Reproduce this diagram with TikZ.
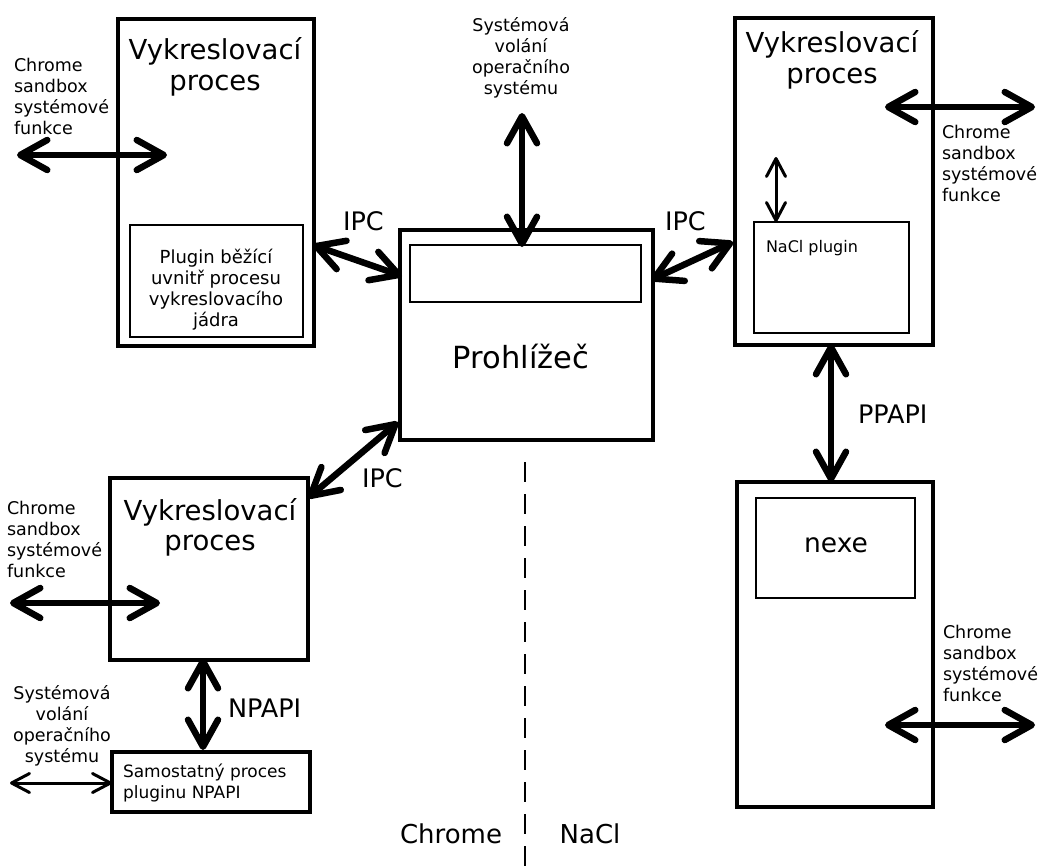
\documentclass[tikz,border=0pt]{standalone}
\usepackage{fontspec}
\setmainfont{DejaVu Sans}
\usetikzlibrary{arrows.meta}
\newcommand\BigTxt{\fontsize{27.5}{30.5}\selectfont}
\newcommand\LblTxt{\fontsize{25.5}{30}\selectfont}
\newcommand\SmTxt{\fontsize{17.5}{21}\selectfont}
\tikzset{
  outerbox/.style={draw, line width=4.5pt, inner sep=0pt, outer sep=0pt},
  innerbox/.style={draw, line width=2pt, inner sep=0pt, outer sep=0pt},
  bigtip/.tip={Straight Barb[length=27pt,width=30pt,round]},
  smalltip/.tip={Straight Barb[length=18pt,width=19pt,round]},
  bigarrow/.style={line width=6.5pt, line cap=round, bigtip-bigtip},
  smallarrow/.style={line width=3pt, line cap=round, smalltip-smalltip},
  txt/.style={inner sep=0pt, outer sep=0pt},
}
\begin{document}
\begin{tikzpicture}[x=1pt,y=-1pt]
\fill[white] (0,0) rectangle (1039,865);
\useasboundingbox (0,0) rectangle (1039,865);

% boxes
\node[outerbox, minimum width=196pt, minimum height=327pt] (rA) at (216,182.5) {};
\node[innerbox, minimum width=173pt, minimum height=112pt] (pA) at (216.5,281) {};
\node[outerbox, minimum width=253pt, minimum height=210pt] (br) at (526.5,335) {};
\node[innerbox, minimum width=231pt, minimum height=57pt] (bi) at (525.5,273.5) {};
\node[outerbox, minimum width=198pt, minimum height=327pt] (rC) at (834,181.5) {};
\node[innerbox, minimum width=155pt, minimum height=111pt] (nC) at (831.5,277.5) {};
\node[outerbox, minimum width=196pt, minimum height=325pt] (rD) at (835,644.5) {};
\node[innerbox, minimum width=159pt, minimum height=100pt] (nx) at (835.5,548) {};
\node[outerbox, minimum width=198pt, minimum height=182pt] (rE) at (209,569) {};
\node[outerbox, minimum width=198pt, minimum height=60pt] (rF) at (211,782) {};

% big texts
\node[txt, anchor=north, align=center, font=\BigTxt] (tA) at (215,38) {Vykreslovací\\proces};
\node[txt, anchor=north, align=center, font=\BigTxt] (tC) at (832,31) {Vykreslovací\\proces};
\node[txt, anchor=north, align=center, font=\BigTxt] (tE) at (210,498) {Vykreslovací\\proces};
\node[txt, anchor=base, font=\fontsize{30.5}{35}\selectfont] (tB) at (521,368) {Prohlížeč};
\node[txt, anchor=base, font=\fontsize{26.5}{31}\selectfont] (tN) at (836,552) {nexe};

% connector labels
\node[txt, anchor=base west, font=\LblTxt] (ipc1) at (343,230) {IPC};
\node[txt, anchor=base west, font=\LblTxt] (ipc2) at (665,230) {IPC};
\node[txt, anchor=base west, font=\LblTxt] (ipc3) at (362,487) {IPC};
\node[txt, anchor=base west, font=\LblTxt] (npapi) at (228,717) {NPAPI};
\node[txt, anchor=base west, font=\LblTxt] (ppapi) at (858,423) {PPAPI};
\node[txt, anchor=base, font=\fontsize{26}{30}\selectfont] (chr) at (451,843) {Chrome};
\node[txt, anchor=base, font=\fontsize{26}{30}\selectfont] (nacl) at (590,843) {NaCl};

% small labels
\node[txt, anchor=north west, align=left, font=\SmTxt] (sA) at (14,58.7) {Chrome\\sandbox\\systémové\\funkce};
\node[txt, anchor=north west, align=left, font=\SmTxt] (sC) at (942,124.7) {Chrome\\sandbox\\systémové\\funkce};
\node[txt, anchor=north west, align=left, font=\SmTxt] (sD) at (943,624.7) {Chrome\\sandbox\\systémové\\funkce};
\node[txt, anchor=north west, align=left, font=\SmTxt] (sE) at (7,500.7) {Chrome\\sandbox\\systémové\\funkce};
\node[txt, anchor=north, align=center, font=\SmTxt] (sTop) at (521,18) {Systémová\\volání\\operačního\\systému};
\node[txt, anchor=north, align=center, font=\SmTxt] (sF) at (62,685) {Systémová\\volání\\operačního\\systému};
\node[txt, anchor=north, align=center, font=\fontsize{18}{21}\selectfont] (tpA) at (216,248.6) {Plugin běžící\\uvnitř procesu\\vykreslovacího\\jádra};
\node[txt, anchor=base west, font=\fontsize{16}{20}\selectfont] (tnC) at (766,252) {NaCl plugin};
\node[txt, anchor=north west, align=left, font=\fontsize{17}{21}\selectfont] (tF) at (123,763.4) {Samostatný proces\\pluginu NPAPI};

% connector end points
\coordinate (a1) at (17,155);   \coordinate (a2) at (167,155);
\coordinate (t1) at (522,113);  \coordinate (t2) at (522,247);
\coordinate (i1) at (313,245);  \coordinate (i2) at (402,276);
\coordinate (j1) at (651,280);  \coordinate (j2) at (733,242);
\coordinate (c1) at (885,107);  \coordinate (c2) at (1035,107);
\coordinate (p1) at (831,344);  \coordinate (p2) at (831,482);
\coordinate (k1) at (398,422);  \coordinate (k2) at (308,498);
\coordinate (e1) at (10,603);   \coordinate (e2) at (160,603);
\coordinate (n1) at (203,658);  \coordinate (n2) at (203,750);
\coordinate (d1) at (885,725);  \coordinate (d2) at (1035,725);
\coordinate (s1) at (776,157);  \coordinate (s2) at (776,222);
\coordinate (f1) at (10,783);   \coordinate (f2) at (112,783);
\coordinate (dtop) at (525,462); \coordinate (dbot) at (525,866);

% connectors
\draw[bigarrow] (a1) -- (a2);
\draw[bigarrow] (t1) -- (t2);
\draw[bigarrow] (i1) -- (i2);
\draw[bigarrow] (j1) -- (j2);
\draw[bigarrow] (c1) -- (c2);
\draw[bigarrow] (p1) -- (p2);
\draw[bigarrow] (k1) -- (k2);
\draw[bigarrow] (e1) -- (e2);
\draw[bigarrow] (n1) -- (n2);
\draw[bigarrow] (d1) -- (d2);
\draw[smallarrow] (s1) -- (s2);
\draw[smallarrow] (f1) -- (f2);
\draw[line width=2.5pt, dash pattern=on 20pt off 12pt] (dtop) -- (dbot);
\end{tikzpicture}
\end{document}
